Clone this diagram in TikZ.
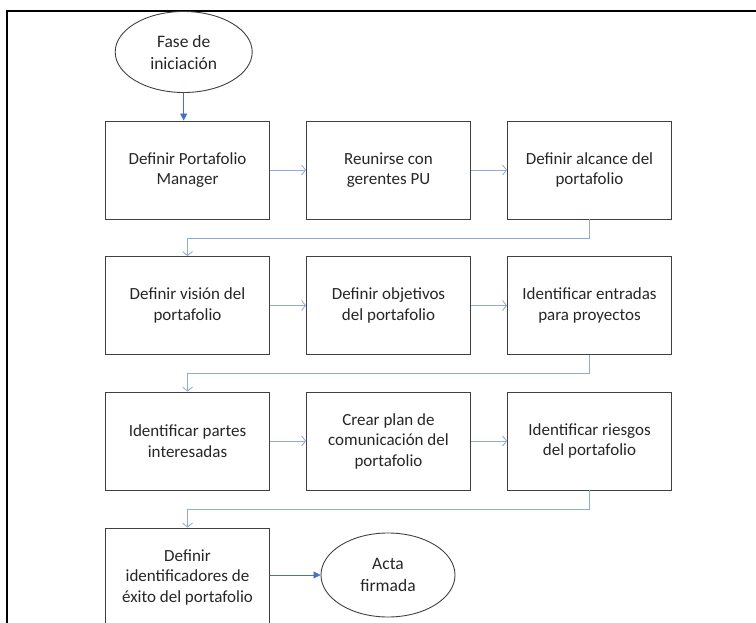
\documentclass[tikz,border=0pt]{standalone}
\usepackage{fontspec}
\setmainfont{Carlito}
\usetikzlibrary{arrows.meta,shapes.geometric}
\definecolor{boxgray}{HTML}{404040}
\definecolor{textgray}{HTML}{262626}
\definecolor{lightblue}{HTML}{8FAADC}
\definecolor{darkblue}{HTML}{4472C4}
\begin{document}
\begin{tikzpicture}[x=1pt,y=-1pt,
  stepbox/.style={draw=boxgray, line width=0.9pt, minimum width=164pt, minimum height=98pt,
    align=center, inner sep=0pt, text=textgray, font=\fontsize{17}{20.5}\selectfont},
  terminal/.style={ellipse, draw=boxgray, line width=0.9pt, align=center, inner sep=0pt,
    text=textgray, font=\fontsize{17.5}{22}\selectfont},
  flow/.style={draw=lightblue, line width=0.8pt, -{Straight Barb[length=4pt,width=10pt]}},
  strong/.style={draw=darkblue, line width=0.8pt, -{Triangle[length=7pt,width=7pt]}}]
\useasboundingbox (0,0) rectangle (756,623);
\clip (0,0) rectangle (756,623);

% outer frame
\draw[line width=1.3pt] (7,630) -- (7,11) -- (760,11);

% start and end terminals
\node[terminal, minimum width=137pt, minimum height=81pt] (start) at (183.7,52) {Fase de\\iniciación};

% process steps, row by row
\node[stepbox] (s1) at (187.5,170) {Definir Portafolio\\Manager};
\node[stepbox] (s2) at (388.5,170) {Reunirse con\\gerentes PU};
\node[stepbox] (s3) at (589.5,170) {Definir alcance del\\portafolio};

\node[stepbox] (s4) at (187.5,305.5) {Definir visión del\\portafolio};
\node[stepbox] (s5) at (388.5,305.5) {Definir objetivos\\del portafolio};
\node[stepbox] (s6) at (589.5,305.5) {Identificar entradas\\para proyectos};

\node[stepbox] (s7) at (187.5,441) {Identificar partes\\interesadas};
\node[stepbox] (s8) at (388.5,441) {Crear plan de\\comunicación del\\portafolio};
\node[stepbox] (s9) at (589.5,441) {Identificar riesgos\\del portafolio};

\node[stepbox] (s10) at (187.5,577) {Definir\\identificadores de\\éxito del portafolio};

\node[terminal, minimum width=134pt, minimum height=84pt] (finish) at (388,575) {Acta\\firmada};

% connectors
\draw[strong] (start.south) -- (start.south |- s1.north);

\draw[flow] (s1) -- (s2);
\draw[flow] (s2) -- (s3);
\draw[flow] (s3.south) -- ++(0,18.5) -| (s4.north);

\draw[flow] (s4) -- (s5);
\draw[flow] (s5) -- (s6);
\draw[flow] (s6.south) -- ++(0,18.5) -| (s7.north);

\draw[flow] (s7) -- (s8);
\draw[flow] (s8) -- (s9);
\draw[flow] (s9.south) -- ++(0,18.5) -| (s10.north);

\draw[strong] (s10.east |- finish.west) -- (finish.west);
\end{tikzpicture}
\end{document}
